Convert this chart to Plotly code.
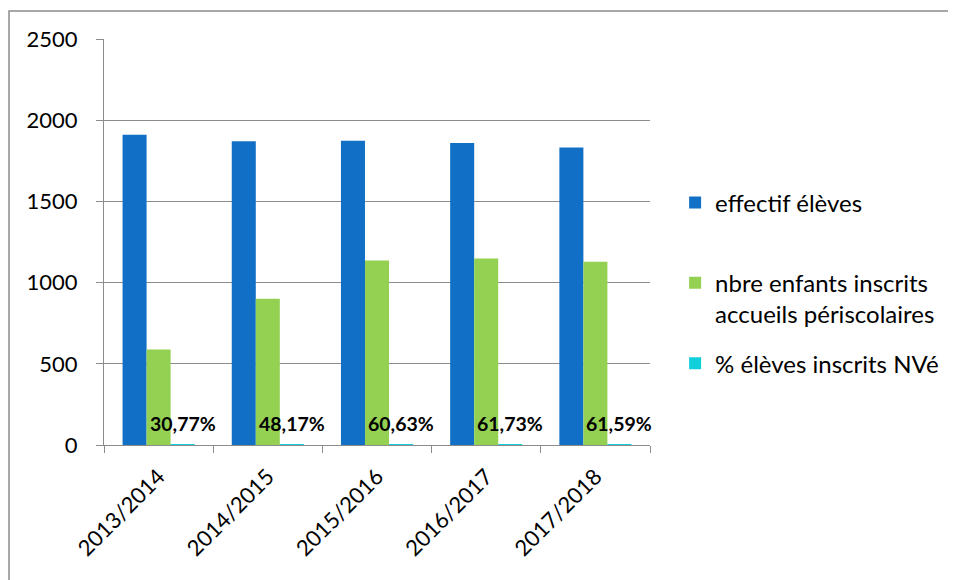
import plotly.graph_objects as go

categories = ["2013/2014", "2014/2015", "2015/2016", "2016/2017", "2017/2018"]
effectif_eleves = [1910, 1870, 1873, 1860, 1832]
enfants_periscolaires = [588, 901, 1136, 1148, 1128]
pct_nve = [0.3077, 0.4817, 0.6063, 0.6173, 0.6159]
pct_labels = ["30,77%", "48,17%", "60,63%", "61,73%", "61,59%"]
y_ticks = [0, 500, 1000, 1500, 2000, 2500]

FONT = "Lato, 'Open Sans', sans-serif"
GRAY = "#8c8c8c"

fig = go.Figure()
fig.add_trace(go.Bar(x=categories, y=effectif_eleves, name="effectif élèves<br> ",
                     marker=dict(color="#1170C6", line=dict(width=0)), legendgroup="a"))
fig.add_trace(go.Bar(x=categories, y=enfants_periscolaires,
                     name="nbre enfants inscrits<br>accueils périscolaires",
                     marker=dict(color="#94D152", line=dict(width=0)), legendgroup="b"))
fig.add_trace(go.Bar(x=categories, y=pct_nve, name="% élèves inscrits NVé",
                     marker=dict(color="#10CFDB", line=dict(width=0)), legendgroup="c"))

annotations = [
    dict(x=c, y=v, xref="x", yref="y", text=t, showarrow=False,
         xshift=24, yanchor="bottom", yshift=8,
         font=dict(family=FONT, size=19.5, color="black", weight="bold"))
    for c, v, t in zip(categories, pct_nve, pct_labels)
]

fig.update_layout(
    width=948, height=572,
    margin=dict(l=96, r=306, t=31, b=135, autoexpand=False),
    paper_bgcolor="white", plot_bgcolor="white",
    barmode="group", bargap=0.34, bargroupgap=0,
    font=dict(family=FONT, size=22, color="black"),
    legend=dict(x=1.046, xanchor="left", y=0.652, yanchor="top",
                valign="top", tracegroupgap=15, traceorder="grouped",
                font=dict(family=FONT, size=24, color="black")),
    xaxis=dict(type="category", range=[-0.5, len(categories) - 0.5],
               tickangle=-45, showline=True, linecolor=GRAY, linewidth=1.3,
               ticks="outside", tickson="boundaries", ticklen=7, tickcolor=GRAY, tickwidth=1.3,
               showgrid=False, automargin=False, ticklabelstandoff=9,
               tickfont=dict(family=FONT, size=22, color="black")),
    yaxis=dict(range=[0, 2500], tickvals=y_ticks, showline=True, linecolor=GRAY, linewidth=1.3,
               ticks="outside", ticklen=7, tickcolor=GRAY, tickwidth=1.3,
               showgrid=True, gridcolor=GRAY, gridwidth=1.3, zeroline=False, automargin=False,
               ticklabelstandoff=14, tickfont=dict(family=FONT, size=22, color="black")),
    annotations=annotations,
    shapes=[dict(type="rect", xref="paper", yref="paper",
                 x0=(9 - 104) / 546, x1=(960 - 104) / 546,
                 y0=(445 - 590) / 406, y1=(445 - 11) / 406,
                 line=dict(color=GRAY, width=1.5), fillcolor="rgba(0,0,0,0)", layer="below")],
)

fig.write_html("out.html")
